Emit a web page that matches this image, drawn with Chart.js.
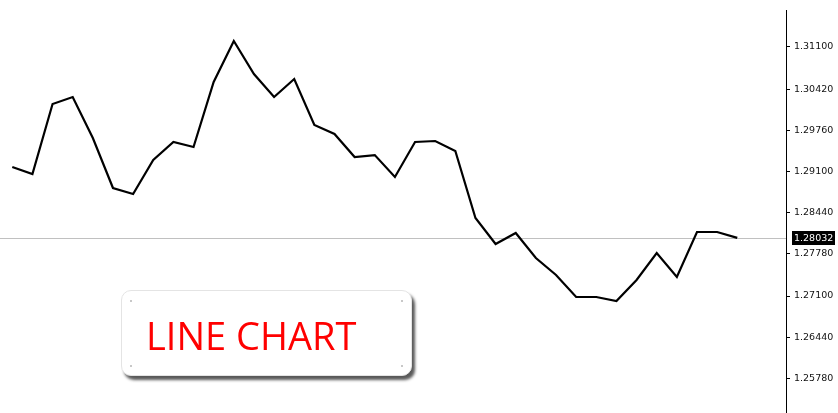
<!DOCTYPE html>
<html>
<head>
<meta charset="utf-8">
<script src="https://cdn.jsdelivr.net/npm/chart.js@4.4.1/dist/chart.umd.min.js"></script>
<style>
  body { margin: 0; background: #fff; }
  #wrap { position: relative; width: 838px; height: 413px; }
  #badge {
    position: absolute; left: 121px; top: 290px; width: 289px; height: 84px;
    background: #fff; border: 1px solid #e4e4e4; border-radius: 10px;
    box-shadow: 3px 4px 3px rgba(0,0,0,0.65);
  }
  #badge span.t {
    position: absolute; left: 24px; top: 22px;
    font-family: "Open Sans", sans-serif; font-size: 38px; color: #ff0000;
    line-height: 44px; white-space: nowrap;
  }
  #badge i {
    position: absolute; width: 2px; height: 2px; background: #c8c8c8;
  }
</style>
</head>
<body>
<div id="wrap">
  <canvas id="chart"></canvas>
  <div id="badge">
    <i style="left:8px;top:9px"></i><i style="right:8px;top:9px"></i>
    <i style="left:8px;bottom:8px"></i><i style="right:8px;bottom:8px"></i>
    <span class="t">LINE CHART</span>
  </div>
</div>
<script>
// closing prices, one per bar
const closes = [
  1.29170, 1.29058, 1.30181, 1.30293, 1.29635, 1.28833, 1.28737, 1.29282,
  1.29571, 1.29491, 1.30534, 1.31191, 1.30662, 1.30293, 1.30582, 1.29844,
  1.29699, 1.29330, 1.29362, 1.29010, 1.29571, 1.29587, 1.29427, 1.28352,
  1.27935, 1.28111, 1.27710, 1.27437, 1.27084, 1.27084, 1.27020, 1.27357,
  1.27790, 1.27405, 1.28127, 1.28127, 1.28032
];
const bars = closes.map((_, i) => i);
const priceTicks = [1.31100, 1.30420, 1.29760, 1.29100, 1.28440, 1.27780, 1.27100, 1.26440, 1.25780];
const currentPrice = 1.28032;

// current price line + black price tag on the axis
const pricePlugin = {
  id: 'pricePlugin',
  beforeDatasetsDraw(chart) {
    const ctx = chart.ctx, y = Math.round(chart.scales.y.getPixelForValue(currentPrice)) + 0.5;
    ctx.save();
    ctx.strokeStyle = '#c0c0c0';
    ctx.lineWidth = 1;
    ctx.beginPath();
    ctx.moveTo(chart.chartArea.left, y);
    ctx.lineTo(chart.chartArea.right, y);
    ctx.stroke();
    ctx.restore();
  },
  afterDraw(chart) {
    const ctx = chart.ctx, y = chart.scales.y.getPixelForValue(currentPrice);
    ctx.save();
    ctx.fillStyle = '#000';
    ctx.fillRect(792, Math.round(y) - 7, 43, 14);
    ctx.fillStyle = '#fff';
    ctx.font = '9.5px "DejaVu Sans"';
    ctx.textBaseline = 'middle';
    ctx.fillText(currentPrice.toFixed(5), 794, y + 0.5);
    ctx.restore();
  }
};

new Chart('chart', {
  type: 'line',
  data: {
    labels: bars,
    datasets: [{
      data: closes,
      borderColor: '#000',
      borderWidth: 2.2,
      pointRadius: 0,
      tension: 0,
      fill: false
    }]
  },
  options: {
    responsive: true,
    maintainAspectRatio: false,
    animation: false,
    layout: { padding: { top: 10, left: 0, right: 0, bottom: 0 } },
    plugins: { legend: { display: false }, tooltip: { enabled: false } },
    scales: {
      x: {
        type: 'linear',
        min: -0.61,
        max: 38.42,
        display: false
      },
      y: {
        position: 'right',
        min: 1.25223,
        max: 1.31689,
        afterBuildTicks: (scale) => { scale.ticks = priceTicks.map(v => ({ value: v })); },
        afterFit: (scale) => {
          scale.width = 52;
          scale.paddingTop = 0;
          scale.paddingBottom = 0;
        },
        border: { display: true, color: '#000', width: 1 },
        grid: { drawOnChartArea: false, drawTicks: true, tickLength: 4, color: '#000' },
        ticks: {
          padding: 4,
          color: '#111',
          font: { family: 'DejaVu Sans', size: 9.5 },
          callback: (v) => Number(v).toFixed(5)
        }
      }
    }
  },
  plugins: [pricePlugin]
});
</script>
</body>
</html>
